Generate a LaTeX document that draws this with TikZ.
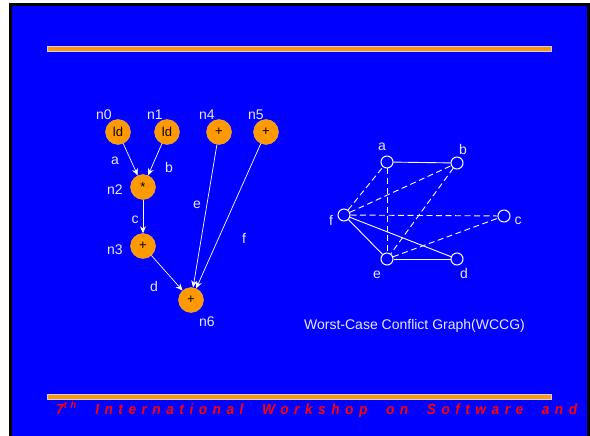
\documentclass[tikz,border=0pt]{standalone}
\usepackage{fontspec}
\setmainfont{Liberation Sans}
\usepackage{graphicx}
\usetikzlibrary{arrows.meta}
\definecolor{slideblue}{HTML}{0000FF}
\definecolor{nodeorange}{HTML}{FF9900}
\definecolor{lighttext}{HTML}{E8E8FF}
\definecolor{footred}{HTML}{FF0000}
\tikzset{
  op/.style={circle, fill=nodeorange, draw=nodeorange!80!white, inner sep=0pt, minimum size=25pt, font=\fontsize{13}{14}\selectfont, text=black},
  lbl/.style={text=lighttext, font=\fontsize{14}{16}\selectfont, inner sep=0pt},
  vx/.style={circle, draw=white, line width=1pt, minimum size=12pt, inner sep=0pt},
  dep/.style={draw=white, line width=0.7pt, -{Stealth[length=7pt,width=6pt]}},
  cedge/.style={draw=white, line width=0.9pt},
  dedge/.style={draw=white, line width=0.9pt, dash pattern=on 6pt off 3.5pt},
  bar/.style={fill=nodeorange, draw=white!80!blue, line width=0.8pt}
}
\begin{document}
\begin{tikzpicture}[x=1pt,y=-1pt]
\useasboundingbox (0,0) rectangle (590,436);
\fill[white] (0,0) rectangle (590,436);
\fill[black] (9,3) rectangle (590,436);
\fill[slideblue] (12,6) rectangle (587,436);
% bars
\path[bar] (47.5,46.5) rectangle (551.5,51.5);
\path[bar] (47.5,394.5) rectangle (551.5,399.5);
% footer
\node[anchor=west, inner sep=0pt, text=footred] (foot) at (56,409.5)
  {\resizebox{521pt}{12.5pt}{\fontsize{12}{12}\selectfont\bfseries\itshape\addfontfeature{LetterSpace=40}7\textsuperscript{th}\ \ International\ \ Workshop\ \ on\ \ Software\ \ and}};
% left graph
\node[op] (n0) at (118,132) {ld};
\node[op] (n1) at (167,132) {ld};
\node[op] (n4) at (219,132) {+};
\node[op] (n5) at (266,132) {+};
\node[op] (n2) at (143,187) {*};
\node[op] (n3) at (143,246) {+};
\node[op] (n6) at (191,300) {+};
\node[lbl] (ln0) at (104,115) {n0};
\node[lbl] (ln1) at (155,115) {n1};
\node[lbl] (ln4) at (207,115) {n4};
\node[lbl] (ln5) at (256,115) {n5};
\node[lbl] (ln2) at (115,190) {n2};
\node[lbl] (ln3) at (115,250) {n3};
\node[lbl] (ln6) at (207,322) {n6};
\draw[dep] (n0) -- (n2);
\draw[dep] (n1) -- (n2);
\draw[dep] (n2) -- (n3);
\draw[dep] (n3) -- (n6);
\draw[dep] (n4) -- (n6);
\draw[dep] (n5) -- (n6);
\node[lbl] (la) at (115,161) {a};
\node[lbl] (lb) at (169,167) {b};
\node[lbl] (lc) at (135,220) {c};
\node[lbl] (ld) at (154,286) {d};
\node[lbl] (le) at (197,205) {e};
\node[lbl] (lf) at (244,238) {f};
% right graph
\node[vx] (a) at (387,162) {};
\node[vx] (b) at (457,163) {};
\node[vx] (f) at (344,215) {};
\node[vx] (c) at (504,216) {};
\node[vx] (e) at (387,259) {};
\node[vx] (d) at (457,259) {};
\node[lbl] (lra) at (382,147) {a};
\node[lbl] (lrb) at (463,149) {b};
\node[lbl] (lrf) at (331,220) {f};
\node[lbl] (lrc) at (518,221) {c};
\node[lbl] (lre) at (377,275) {e};
\node[lbl] (lrd) at (464,273) {d};
\draw[cedge] (a) -- (b);
\draw[cedge] (e) -- (d);
\draw[cedge] (f) -- (e);
\draw[cedge] (f) -- (d);
\draw[dedge] (f) -- (a);
\draw[dedge] (f) -- (b);
\draw[dedge] (f) -- (c);
\draw[dedge] (a) -- (e);
\draw[dedge] (b) -- (e);
\draw[dedge] (e) -- (c);
\node[lbl] (cap) at (414.5,326) {Worst-Case Conflict Graph(WCCG)};
\end{tikzpicture}
\end{document}
